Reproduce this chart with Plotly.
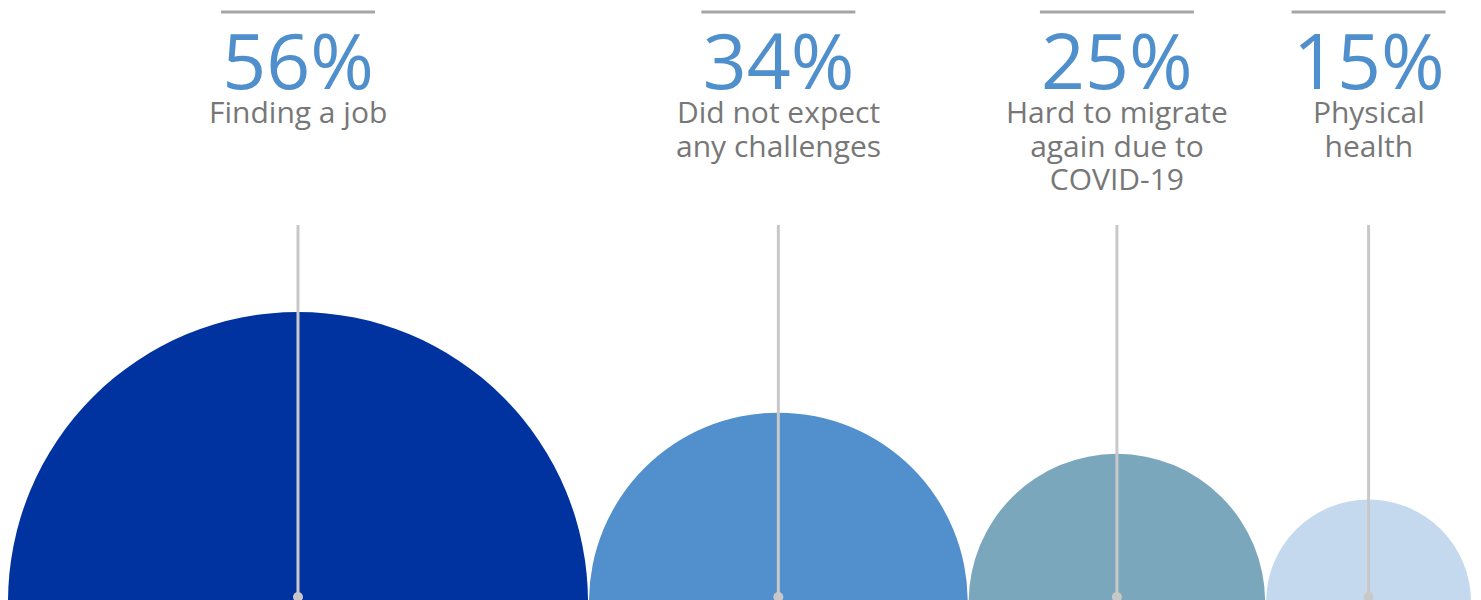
import plotly.graph_objects as go

# Data
categories = ["Finding a job", "Did not expect<br>any challenges",
              "Hard to migrate<br>again due to<br>COVID-19", "Physical<br>health"]
values = [56, 34, 25, 15]
colors = ["#0033a0", "#5190cc", "#7ba7bc", "#c5d9ee"]

W, H = 1481, 600
# radius scale (pixels) derived from the value
r_a, r_b = 33.85, 4.574
left_start = 8
gap = 1
center_y = -2  # circle centres just below the bottom edge
FONT = "Open Sans, Noto Sans"

fig = go.Figure()

radii = [r_a + r_b * v for v in values]
centers = []
x = left_start
for r in radii:
    centers.append(x + r)
    x += 2 * r + gap

shapes = []
annotations = []
for cat, v, col, r, cx in zip(categories, values, colors, radii, centers):
    shapes.append(dict(type="circle", xref="x", yref="y",
                       x0=cx - r, x1=cx + r, y0=center_y - r, y1=center_y + r,
                       fillcolor=col, line=dict(width=0), layer="below"))
    # top horizontal rule
    shapes.append(dict(type="line", xref="x", yref="y",
                       x0=cx - 77, x1=cx + 77, y0=H - 12, y1=H - 12,
                       line=dict(color="#a6a6a6", width=3)))
    label = "<br>".join(f"<span style='font-size:30px'>{ln}</span>"
                        for ln in cat.split("<br>"))
    text = f"<span style='font-size:77px;color:#4f8fcc'>{v}%</span><br>{label}"
    annotations.append(dict(x=cx, y=H - 5, xref="x", yref="y",
                            text=text, showarrow=False, yanchor="top",
                            align="center",
                            font=dict(family=FONT, size=26, color="#777777")))

# vertical leader lines with dots
fig.add_trace(go.Scatter(
    x=[c for cx in centers for c in (cx, cx, None)],
    y=[yy for _ in centers for yy in (H - 225, 3, None)],
    mode="lines", line=dict(color="#c8c8c8", width=3), hoverinfo="skip"))
fig.add_trace(go.Scatter(
    x=centers, y=[3] * len(centers), mode="markers",
    marker=dict(color="#c8c8c8", size=10), hoverinfo="skip"))

fig.update_layout(
    width=W, height=H, margin=dict(l=0, r=0, t=0, b=0),
    paper_bgcolor="white", plot_bgcolor="white", showlegend=False,
    shapes=shapes, annotations=annotations,
    xaxis=dict(range=[0, W], visible=False, fixedrange=True),
    yaxis=dict(range=[0, H], visible=False, fixedrange=True),
)
fig.write_html("out.html", config={"displayModeBar": False},
               post_script="document.body.style.margin='0';document.body.style.overflow='hidden';")
